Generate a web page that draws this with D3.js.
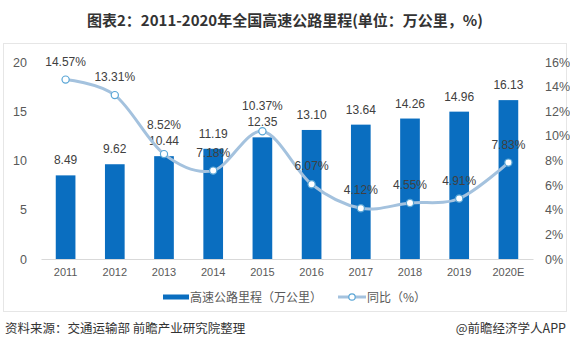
<!DOCTYPE html>
<html><head><meta charset="utf-8">
<script src="https://cdn.jsdelivr.net/npm/d3@7"></script>
<style>body{margin:0;background:#fff}svg{display:block}</style>
</head><body>
<svg id="c" width="570" height="350"></svg>
<script>
const categories = ["2011","2012","2013","2014","2015","2016","2017","2018","2019","2020E"];
const mileage = [8.49, 9.62, 10.44, 11.19, 12.35, 13.10, 13.64, 14.26, 14.96, 16.13];
const growth = [14.57, 13.31, 8.52, 7.18, 10.37, 6.07, 4.12, 4.55, 4.91, 7.83];
const leftTicks = [0, 5, 10, 15, 20];
const rightTicks = [0, 2, 4, 6, 8, 10, 12, 14, 16];

const svg = d3.select("#c");
const fNum = "Arial, 'Liberation Sans', 'Noto Sans CJK SC', sans-serif";
const fCJK = "'Microsoft YaHei', 'Noto Sans CJK SC', sans-serif";

svg.append("rect").attr("x",3.5).attr("y",43.5).attr("width",563).attr("height",268)
  .attr("fill","none").attr("stroke","#e6e6e6");

svg.append("text").attr("x",285).attr("y",26).attr("text-anchor","middle")
  .attr("font-family",fCJK).attr("font-weight","bold").attr("font-size",15).attr("fill","#333")
  .text("图表2：2011-2020年全国高速公路里程(单位：万公里，%)");

const x = d3.scaleBand().domain(categories).range([41,533]).paddingInner(0.6).paddingOuter(0.3);
const yL = d3.scaleLinear().domain([0,20]).range([259,62]);
const yR = d3.scaleLinear().domain([0,16]).range([259,62]);

// left axis
const gl = svg.append("g").attr("transform","translate(27,0)")
  .call(d3.axisLeft(yL).tickValues(leftTicks).tickSize(0).tickPadding(0));
gl.select(".domain").remove();
gl.selectAll("text").attr("font-family",fNum).attr("font-size",12.5).attr("fill","#595959");

// right axis
const gr = svg.append("g").attr("transform","translate(545,0)")
  .call(d3.axisRight(yR).tickValues(rightTicks).tickSize(0).tickPadding(0).tickFormat(d=>d+"%"));
gr.select(".domain").remove();
gr.selectAll("text").attr("font-family",fNum).attr("font-size",12.5).attr("fill","#595959");

// bars
svg.append("g").selectAll("rect").data(mileage).join("rect")
  .attr("x",(d,i)=>x(categories[i])).attr("width",x.bandwidth())
  .attr("y",d=>yL(d)).attr("height",d=>yL(0)-yL(d)).attr("fill","#0a6ec0");

// baseline + x axis
const gx = svg.append("g").attr("transform","translate(0,259)")
  .call(d3.axisBottom(x).tickSize(0).tickPadding(9));
gx.select(".domain").attr("stroke","#d9d9d9");
gx.selectAll("text").attr("font-family",fNum).attr("font-size",11).attr("fill","#595959");

// bar labels (baseline 11px above bar top)
const barLabelY = mileage.map(d=>yL(d)-11);
svg.append("g").selectAll("text").data(mileage).join("text")
  .attr("x",(d,i)=>x(categories[i])+x.bandwidth()/2).attr("y",(d,i)=>barLabelY[i])
  .attr("text-anchor","middle").attr("font-family",fNum).attr("font-size",12).attr("fill","#404040")
  .text(d=>d.toFixed(2));

// line
const cx = (i)=>x(categories[i])+x.bandwidth()/2;
const line = d3.line().x((d,i)=>cx(i)).y(d=>yR(d)).curve(d3.curveCardinal.tension(0));
svg.append("path").datum(growth).attr("d",line).attr("fill","none")
  .attr("stroke","#a4c2de").attr("stroke-width",3);
svg.append("g").selectAll("circle").data(growth).join("circle")
  .attr("cx",(d,i)=>cx(i)).attr("cy",d=>yR(d)).attr("r",3.6)
  .attr("fill","#fff").attr("stroke","#5aa6d6").attr("stroke-width",1.2);
// line labels: above the point, pushed above bar label when they would collide
const lineLabelY = growth.map((d,i)=>{
  let y = yR(d)-14;
  if (Math.abs(y - barLabelY[i]) < 14) y = barLabelY[i] - 16;
  return y;
});
svg.append("g").selectAll("text").data(growth).join("text")
  .attr("x",(d,i)=>cx(i)).attr("y",(d,i)=>lineLabelY[i])
  .attr("text-anchor","middle").attr("font-family",fNum).attr("font-size",12).attr("fill","#404040")
  .text(d=>d.toFixed(2)+"%");

// legend
const lg = svg.append("g");
lg.append("rect").attr("x",163).attr("y",294.5).attr("width",26).attr("height",5).attr("fill","#0a6ec0");
lg.append("text").attr("x",190).attr("y",301.5).attr("font-family",fCJK).attr("font-size",12).attr("fill","#595959")
  .text("高速公路里程（万公里）");
lg.append("line").attr("x1",338).attr("x2",366).attr("y1",297).attr("y2",297).attr("stroke","#a4c2de").attr("stroke-width",3);
lg.append("circle").attr("cx",352).attr("cy",297).attr("r",3.2).attr("fill","#fff").attr("stroke","#5aa6d6").attr("stroke-width",1.2);
lg.append("text").attr("x",367).attr("y",301.5).attr("font-family",fCJK).attr("font-size",12).attr("fill","#595959")
  .text("同比（%）");

// footer
svg.append("text").attr("x",5).attr("y",333).attr("font-family",fCJK).attr("font-size",12.5).attr("fill","#333")
  .text("资料来源：交通运输部 前瞻产业研究院整理");
svg.append("text").attr("x",566).attr("y",333).attr("text-anchor","end").attr("font-family",fCJK).attr("font-size",12.5).attr("fill","#333")
  .text("@前瞻经济学人APP");
</script>
</body></html>
